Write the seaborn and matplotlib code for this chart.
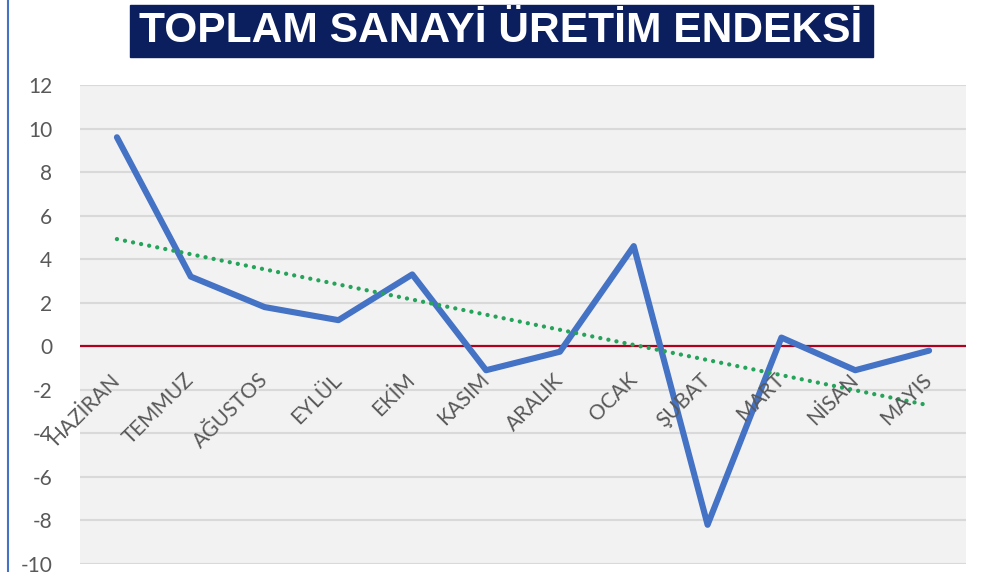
import numpy as np
import pandas as pd
import matplotlib.pyplot as plt
import seaborn as sns
from matplotlib.patches import Rectangle
from matplotlib.lines import Line2D

# aylik degisim (%)
months = ["HAZİRAN", "TEMMUZ", "AĞUSTOS", "EYLÜL", "EKİM", "KASIM",
          "ARALIK", "OCAK", "ŞUBAT", "MART", "NİSAN", "MAYIS"]
values = [9.6, 3.2, 1.8, 1.2, 3.3, -1.1, -0.25, 4.6, -8.2, 0.4, -1.1, -0.2]
yticks = list(range(-10, 13, 2))

df = pd.DataFrame({"i": np.arange(len(months)), "ay": months, "deger": values})

sns.set_theme(style="white")
plt.rcParams["font.family"] = ["Lato", "DejaVu Sans"]

fig = plt.figure(figsize=(9.88, 5.72), dpi=100)
ax = fig.add_axes([80 / 988, 1 - 564 / 572, 886 / 988, 479 / 572])
ax.set_facecolor("#F2F2F2")

for t in yticks:
    if t != 0:
        ax.axhline(t, color="#D9D9D9", lw=1.5, zorder=1)
ax.axhline(0, color="#B0001E", lw=1.6, zorder=2)

sns.lineplot(data=df, x="i", y="deger", sort=False, color="#4472C4", lw=4.4,
             solid_capstyle="round", ax=ax, zorder=3)

# dogrusal egilim cizgisi
sns.regplot(data=df, x="i", y="deger", scatter=False, ci=None, ax=ax,
            line_kws=dict(color="#25A35A", lw=3.1, linestyle=(0, (0.01, 1.9)),
                          dash_capstyle="round", zorder=4))

ax.set_xlim(-0.5, len(months) - 0.5)
ax.set_ylim(-10, 12)
ax.set_yticks(yticks)
ax.set_yticklabels([str(t) for t in yticks])
ax.set_xticks([])
ax.set_xlabel("")
ax.set_ylabel("")
ax.tick_params(axis="y", length=0, pad=20, labelsize=15, labelcolor="#595959")
for s in ax.spines.values():
    s.set_visible(False)

for i, m in enumerate(months):
    ax.text(i, -1.4, m, rotation=45, rotation_mode="anchor",
            ha="right", va="center", fontsize=15, color="#595959", zorder=5)

# baslik kutusu
fig.patches.append(Rectangle((130 / 988, 1 - 57 / 572), 743 / 988, 52 / 572,
                             transform=fig.transFigure, color="#0B1F5E", zorder=0))
fig.text(501 / 988, 1 - 31 / 572, "TOPLAM SANAYİ ÜRETİM ENDEKSİ",
         family=["Liberation Sans", "DejaVu Sans"], weight="bold",
         fontsize=30.6, color="white", ha="center", va="center")

fig.lines.append(Line2D([8 / 988, 8 / 988], [0, 1], transform=fig.transFigure,
                        color="#4472C4", lw=1.5))

fig.savefig("out.png", dpi=100)
